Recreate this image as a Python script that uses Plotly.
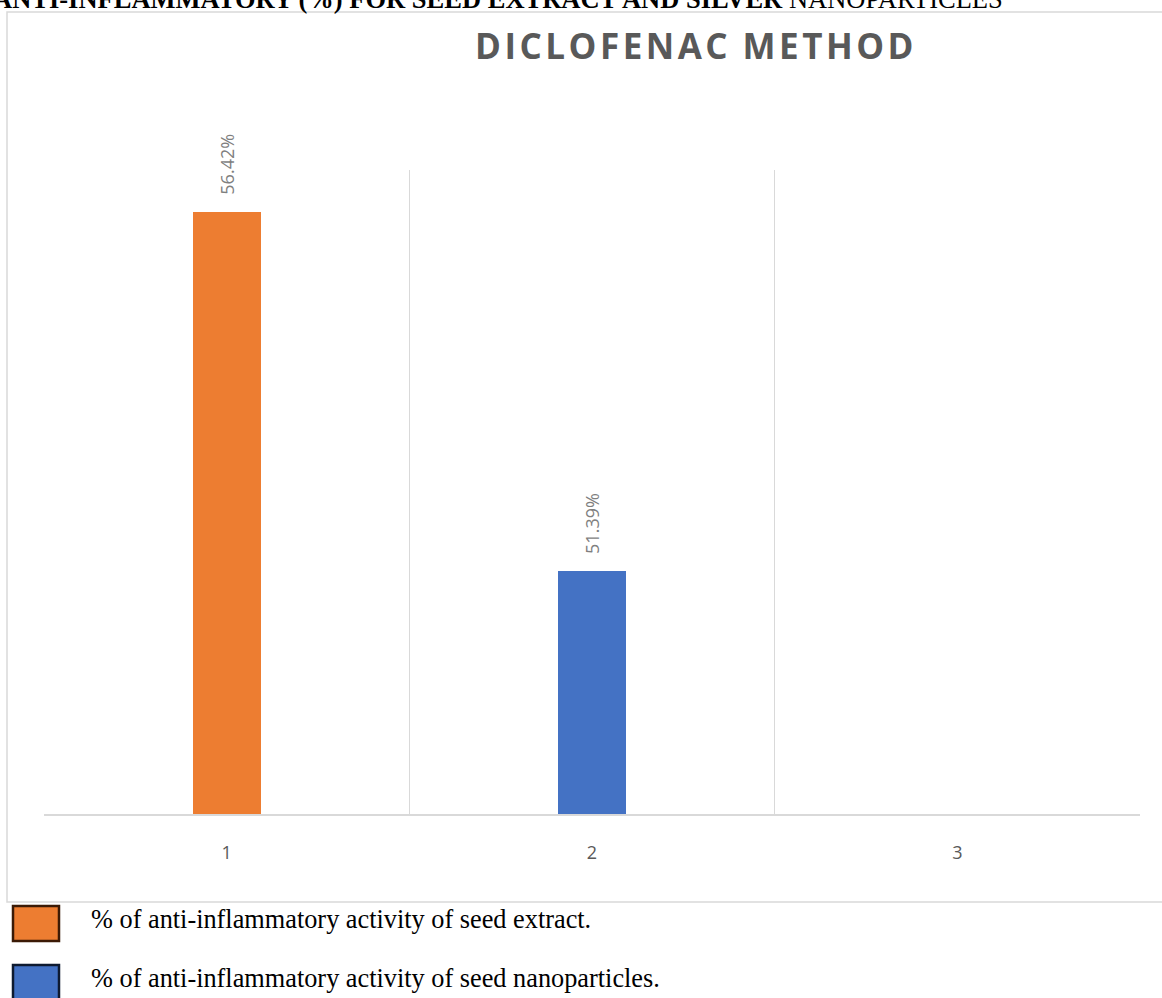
import plotly.graph_objects as go

# Data
categories = [1, 2, 3]
values = [56.42, 51.39, None]
bar_colors = ["#ED7D31", "#4472C4", "#A5A5A5"]
series_names = [
    "% of anti-inflammatory activity of seed extract.",
    "% of anti-inflammatory activity of seed nanoparticles.",
]
legend_colors = ["#ED7D31", "#4472C4"]
legend_edges = ["#3B1A06", "#0E1A30"]
tick_labels = ["1", "2", "3"]

# Page / plot geometry (pixels)
PAGE_W, PAGE_H = 1162, 998
L, R, T, B = 44, 22, 170, 184
PW = PAGE_W - L - R
PH = PAGE_H - T - B
PLOT_BOTTOM = PAGE_H - B


def fx(px):
    return (px - L) / PW


def fy(py):
    return (PLOT_BOTTOM - py) / PH


fig = go.Figure()

fig.add_trace(go.Bar(
    x=categories,
    y=values,
    width=0.186,
    marker=dict(color=bar_colors, line=dict(width=0)),
    showlegend=False,
    hoverinfo="skip",
))

annotations = []

# Rotated value labels above each bar
for c, v in zip(categories, values):
    if v is None:
        continue
    annotations.append(dict(
        x=c, y=v, xref="x", yref="y",
        text=f"{v:.2f}%",
        textangle=-90,
        showarrow=False,
        xanchor="center", yanchor="bottom",
        yshift=15,
        font=dict(family="Open Sans", size=18, color="#7F7F7F"),
    ))

# Chart title
annotations.append(dict(
    x=fx(694), y=fy(45), xref="paper", yref="paper",
    text="D\u200aI\u200aC\u200aL\u200aO\u200aF\u200aE\u200aN\u200aA\u200aC\u2009 M\u200aE\u200aT\u200aH\u200aO\u200aD",
    showarrow=False, xanchor="center", yanchor="middle",
    font=dict(family="Open Sans", size=35, color="#595959", weight=700),
))

# Page heading above the chart frame
annotations.append(dict(
    x=fx(1005), y=fy(16), xref="paper", yref="paper",
    text="<b>ANTI-INFLAMMATORY (%) FOR SEED EXTRACT AND SILVER</b> NANOPARTICLES",
    showarrow=False, xanchor="right", yanchor="bottom",
    font=dict(family="Liberation Serif", size=26.5, color="#000000"),
))

shapes = []

# Chart frame
shapes.append(dict(
    type="rect", xref="paper", yref="paper",
    x0=fx(7), x1=fx(1180), y0=fy(902), y1=fy(12),
    line=dict(color="#D9D9D9", width=1.5),
    fillcolor="rgba(0,0,0,0)", layer="below",
))

# Legend below the frame
legend_rows = [(906, 941, 919), (965, 1000, 978)]
for (top, bottom, mid), name, col, edge in zip(legend_rows, series_names, legend_colors, legend_edges):
    shapes.append(dict(
        type="rect", xref="paper", yref="paper",
        x0=fx(13), x1=fx(59), y0=fy(bottom), y1=fy(top),
        line=dict(color=edge, width=2.5),
        fillcolor=col,
    ))
    annotations.append(dict(
        x=fx(89), y=fy(mid), xref="paper", yref="paper",
        text=name, showarrow=False,
        xanchor="left", yanchor="middle",
        font=dict(family="Liberation Serif", size=26.3, color="#000000"),
    ))

fig.update_layout(
    width=PAGE_W, height=PAGE_H,
    margin=dict(l=L, r=R, t=T, b=B, pad=0),
    paper_bgcolor="white",
    plot_bgcolor="white",
    showlegend=False,
    annotations=annotations,
    shapes=shapes,
    bargap=0,
)

fig.update_xaxes(
    range=[0.5, 3.5],
    tickmode="array",
    tickvals=categories,
    ticktext=tick_labels,
    ticks="",
    showgrid=False,
    zeroline=False,
    showline=True,
    linecolor="#D9D9D9",
    linewidth=1.5,
    ticklabelstandoff=22,
    tickfont=dict(family="Open Sans", size=18, color="#595959"),
    minor=dict(
        tickmode="linear", tick0=0.5, dtick=1,
        showgrid=True, gridcolor="#D9D9D9", gridwidth=1.2, ticks="",
    ),
)

fig.update_yaxes(
    range=[48, 57],
    showgrid=False,
    zeroline=False,
    showline=False,
    showticklabels=False,
    ticks="",
)

fig.write_html("out.html")
